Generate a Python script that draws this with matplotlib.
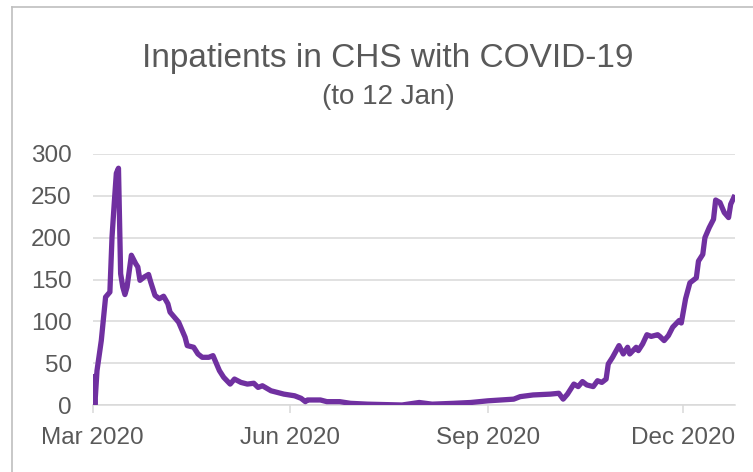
import matplotlib
matplotlib.use("Agg")
import matplotlib.pyplot as plt
from matplotlib import font_manager
from matplotlib.lines import Line2D
import pandas as pd

# ---- data ----
dates = [
    "2020-03-01", "2020-03-02", "2020-03-03", "2020-03-05", "2020-03-07", "2020-03-09",
    "2020-03-10", "2020-03-11", "2020-03-12", "2020-03-13", "2020-03-14", "2020-03-15",
    "2020-03-16", "2020-03-17", "2020-03-19", "2020-03-21", "2020-03-22", "2020-03-23",
    "2020-03-25", "2020-03-27", "2020-03-28", "2020-03-30", "2020-04-01", "2020-04-03",
    "2020-04-05", "2020-04-06", "2020-04-08", "2020-04-10", "2020-04-12", "2020-04-13",
    "2020-04-14", "2020-04-17", "2020-04-19", "2020-04-21", "2020-04-24", "2020-04-26",
    "2020-04-27", "2020-04-29", "2020-05-01", "2020-05-04", "2020-05-06", "2020-05-09",
    "2020-05-12", "2020-05-15", "2020-05-17", "2020-05-19", "2020-05-23", "2020-05-26",
    "2020-05-29", "2020-06-03", "2020-06-06", "2020-06-08", "2020-06-09", "2020-06-15",
    "2020-06-18", "2020-06-24", "2020-06-29", "2020-07-07", "2020-07-23", "2020-07-31",
    "2020-08-06", "2020-08-16", "2020-08-24", "2020-09-01", "2020-09-07", "2020-09-13",
    "2020-09-16", "2020-09-22", "2020-09-30", "2020-10-04", "2020-10-06", "2020-10-08",
    "2020-10-11", "2020-10-13", "2020-10-15", "2020-10-17", "2020-10-20", "2020-10-22",
    "2020-10-24", "2020-10-26", "2020-10-27", "2020-10-29", "2020-11-01", "2020-11-03",
    "2020-11-05", "2020-11-06", "2020-11-09", "2020-11-10", "2020-11-12", "2020-11-14",
    "2020-11-16", "2020-11-19", "2020-11-20", "2020-11-22", "2020-11-24", "2020-11-26",
    "2020-11-29", "2020-11-30", "2020-12-02", "2020-12-04", "2020-12-07", "2020-12-08",
    "2020-12-10", "2020-12-11", "2020-12-13", "2020-12-15", "2020-12-16", "2020-12-18",
    "2020-12-20", "2020-12-22", "2020-12-23", "2020-12-25",
]
inpatients = [
    37, 0, 41, 77, 129, 135,
    201, 240, 277, 283, 157, 141,
    132, 141, 179, 169, 165, 149,
    153, 156, 147, 131, 127, 130,
    121, 111, 105, 99, 87, 81,
    71, 69, 61, 57, 57, 59,
    53, 41, 33, 25, 31, 27,
    25, 26, 21, 23, 17, 15,
    13, 11, 8, 4, 6, 6,
    4, 4, 2, 1, 0, 3,
    1, 2, 3, 5, 6, 7,
    10, 12, 13, 14, 7, 13,
    25, 22, 28, 24, 22, 29,
    27, 31, 49, 57, 71, 61,
    69, 61, 69, 65, 73, 84,
    82, 84, 82, 77, 83, 93,
    101, 98, 127, 146, 152, 172,
    180, 200, 212, 222, 245, 242,
    230, 224, 240, 251,
]
y_ticks = [0, 50, 100, 150, 200, 250, 300]
x_ticks = ["2020-03-01", "2020-06-01", "2020-09-01", "2020-12-01"]
x_tick_labels = ["Mar 2020", "Jun 2020", "Sep 2020", "Dec 2020"]
title = "Inpatients in CHS with COVID-19"
subtitle = "(to 12 Jan)"

# ---- fonts ----
names = {f.name for f in font_manager.fontManager.ttflist}
base_font = "Liberation Sans" if "Liberation Sans" in names else "DejaVu Sans"
narrow_font = "Liberation Sans Narrow" if "Liberation Sans Narrow" in names else None
plt.rcParams["font.family"] = [base_font, "DejaVu Sans"]

TEXT = "#595959"
GRID = "#d9d9d9"
PURPLE = "#7030A0"

W, H = 753, 472
fig = plt.figure(figsize=(W / 100, H / 100), dpi=100)
fig.patch.set_facecolor("white")

ax = fig.add_axes([92.7 / W, 1 - 405 / H, (735 - 92.7) / W, (405 - 154) / H])

x = pd.to_datetime(dates)
ax.plot(x, inpatients, color=PURPLE, lw=3.8, solid_joinstyle="round",
        solid_capstyle="butt", zorder=3)

ax.set_ylim(0, 300)
ax.set_yticks(y_ticks)
ax.set_yticklabels([str(v) for v in y_ticks])
ax.set_xlim(x[0], x[-1])
ax.set_xticks(pd.to_datetime(x_ticks))
ax.set_xticklabels(x_tick_labels)

ax.grid(axis="y", color=GRID, lw=1.1, zorder=0)
ax.grid(axis="x", visible=False)
for s in ["top", "right", "left"]:
    ax.spines[s].set_visible(False)
ax.spines["bottom"].set_color(GRID)
ax.spines["bottom"].set_linewidth(1.1)
ax.spines["bottom"].set_zorder(1)

ax.tick_params(axis="y", length=0, pad=15, labelsize=17.5, labelcolor=TEXT)
ax.tick_params(axis="x", length=6, width=1.1, color=GRID, pad=10,
               labelsize=17.5, labelcolor=TEXT)

# ---- titles ----
if narrow_font:
    tkw = dict(family=[narrow_font, "DejaVu Sans"])
    tsize, ssize = 29, 24
else:
    tkw = dict(family=[base_font, "DejaVu Sans"])
    tsize, ssize = 24, 20
fig.text(388 / W, 1 - 67 / H, title, ha="center", va="baseline",
         fontsize=tsize, color=TEXT, **tkw)
fig.text(388 / W, 1 - 104 / H, subtitle, ha="center", va="baseline",
         fontsize=ssize, color=TEXT, **tkw)

# ---- outer frame (top and left edges visible) ----
fig.add_artist(Line2D([12 / W, 1.0], [1 - 7 / H, 1 - 7 / H],
                      transform=fig.transFigure, color="#bfbfbf", lw=1.2))
fig.add_artist(Line2D([12 / W, 12 / W], [0.0, 1 - 7 / H],
                      transform=fig.transFigure, color="#bfbfbf", lw=1.2))

fig.savefig("out.png", dpi=100, facecolor="white")
